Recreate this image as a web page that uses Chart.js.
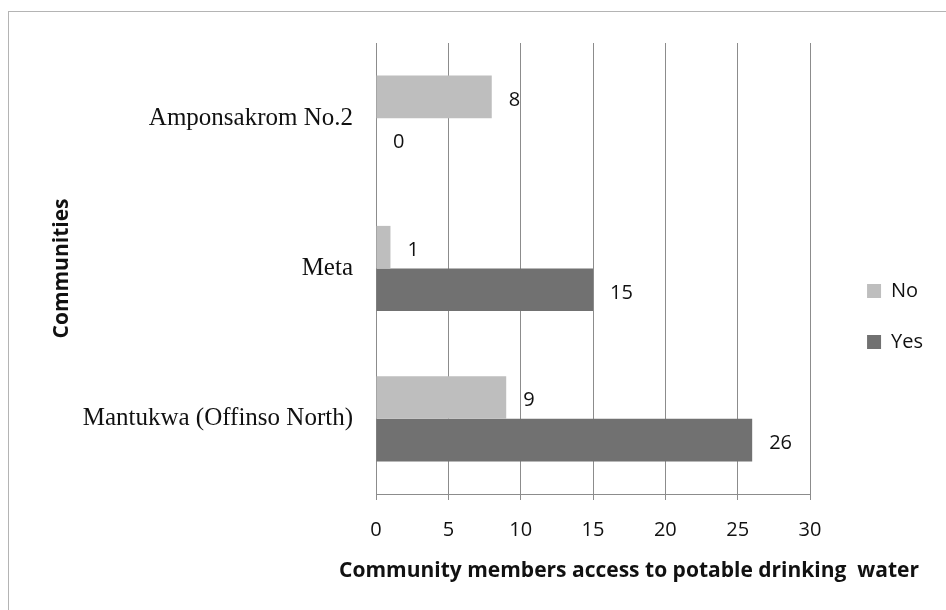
<!DOCTYPE html>
<html>
<head>
<meta charset="utf-8">
<script src="https://cdn.jsdelivr.net/npm/chart.js@4.4.1/dist/chart.umd.min.js"></script>
<style>
  html, body { margin: 0; padding: 0; background: #fff; overflow: hidden; }
  #frame { position: absolute; left: 8px; top: 11px; width: 1200px; height: 900px; border: 1px solid #b4b4b4; }
  #chart { position: absolute; left: 0; top: 0; }
</style>
</head>
<body>
<div id="frame"></div>
<canvas id="chart" width="946" height="610"></canvas>
<script>
// values
const communities = ["Amponsakrom No.2", "Meta", "Mantukwa (Offinso North)"];
const noValues = [8, 1, 9];
const yesValues = [0, 15, 26];
const xRange = [0, 30];
const xStep = 5;

Chart.defaults.font.family = '"Open Sans", sans-serif';

// value text at the end of every bar
const barValueLabels = {
    id: 'barValueLabels',
    afterDatasetsDraw(chart) {
        const ctx = chart.ctx;
        ctx.save();
        ctx.font = '20px "Open Sans"';
        ctx.fillStyle = '#111';
        ctx.textAlign = 'left';
        ctx.textBaseline = 'middle';
        chart.data.datasets.forEach((ds, i) => {
            chart.getDatasetMeta(i).data.forEach((bar, j) => {
                ctx.fillText(ds.data[j], bar.x + 17, bar.y + 3);
            });
        });
        ctx.restore();
    }
};

// legend sits a bit right of / below where chart.js puts it, title a bit to the right
const nudgeBoxes = {
    id: 'nudgeBoxes',
    afterLayout(chart) {
        const lg = chart.legend;
        lg.left += 26; lg.right += 26;
        lg.top -= 10; lg.bottom -= 10;
        const t = chart.titleBlock;
        t.left += 12; t.right += 12;
    }
};

const ctx = document.getElementById('chart').getContext('2d');

new Chart(ctx, {
    type: 'bar',
    data: {
        labels: communities,
        datasets: [{
            label: 'No',
            data: noValues,
            backgroundColor: '#bebebe',
        }, {
            label: 'Yes',
            data: yesValues,
            backgroundColor: '#717171',
        }]
    },
    options: {
        indexAxis: 'y',
        responsive: false,
        animation: false,
        layout: {padding: {top: 43, right: 39, bottom: 0, left: 0}},
        datasets: {bar: {barPercentage: 1, categoryPercentage: 0.567}},
        scales: {
            x: {
                min: xRange[0],
                max: xRange[1],
                ticks: {stepSize: xStep, padding: 18, color: '#111', font: {size: 20}},
                grid: {color: '#8c8c8c', tickLength: 6},
                border: {color: '#8c8c8c'},
                afterFit(scale) { scale.height = 64.8; }
            },
            y: {
                ticks: {padding: 23, color: '#111', font: {family: '"Liberation Serif", serif', size: 25}},
                grid: {drawOnChartArea: false, drawTicks: false},
                border: {color: '#8c8c8c'},
                title: {
                    display: true,
                    text: 'Communities',
                    color: '#111',
                    font: {size: 21, weight: 'bold'},
                    padding: {top: 49, bottom: 0}
                },
                afterFit(scale) { scale.width = 376; }
            }
        },
        plugins: {
            legend: {
                position: 'right',
                labels: {boxWidth: 14, boxHeight: 14, padding: 31, color: '#111', font: {size: 20}}
            },
            title: {
                display: true,
                position: 'bottom',
                align: 'end',
                text: 'Community members access to potable drinking  water',
                color: '#111',
                font: {size: 21, weight: 'bold'},
                padding: {top: 0, bottom: 26}
            },
            tooltip: {enabled: false}
        }
    },
    plugins: [barValueLabels, nudgeBoxes]
});
</script>
</body>
</html>
